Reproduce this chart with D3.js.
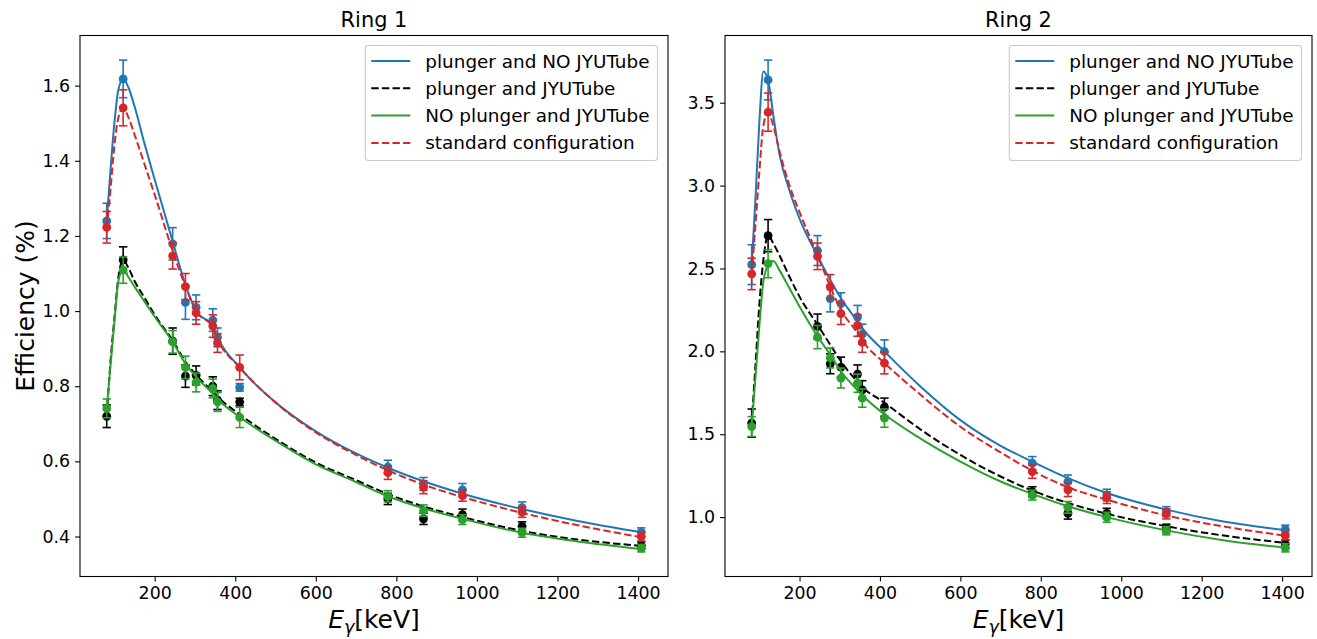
<!DOCTYPE html>
<html>
<head>
<meta charset="utf-8">
<script src="https://cdn.jsdelivr.net/npm/d3@7"></script>
<style>
body { margin: 0; background: #fff; }
svg text { font-family: "DejaVu Sans", sans-serif; fill: #000; }
</style>
</head>
<body>
<div id="chart"></div>
<script>
var width = 1317, height = 639;

// gamma energies of the calibration lines (keV)
var energies = [81.0, 121.8, 244.7, 276.4, 302.9, 344.3, 356.0, 411.1, 778.9, 867.4, 964.1, 1112.1, 1408.0];

var seriesNames = ["plunger and NO JYUTube", "plunger and JYUTube", "NO plunger and JYUTube", "standard configuration"];
var seriesColors = ["#1f77b4", "#000000", "#2ca02c", "#d62728"];
var seriesDashed = [false, true, false, true];

// Ring 1 measured efficiencies (%)
var ring1NoTube = [1.24, 1.618, 1.179, 1.023, 1.01, 0.976, 0.93, 0.797, 0.585, 0.54, 0.524, 0.477, 0.411];
var ring1NoTubeErr = [0.047, 0.05, 0.043, 0.045, 0.033, 0.03, 0.025, 0.01, 0.018, 0.017, 0.017, 0.015, 0.012];
var ring1Tube = [0.72, 1.136, 0.92, 0.827, 0.829, 0.80, 0.763, 0.758, 0.50, 0.447, 0.458, 0.427, 0.376];
var ring1TubeErr = [0.03, 0.035, 0.035, 0.03, 0.025, 0.025, 0.025, 0.01, 0.015, 0.015, 0.015, 0.012, 0.01];
var ring1NoPlunger = [0.741, 1.109, 0.918, 0.85, 0.81, 0.794, 0.758, 0.717, 0.507, 0.469, 0.445, 0.41, 0.369];
var ring1NoPlungerErr = [0.025, 0.035, 0.03, 0.03, 0.025, 0.025, 0.025, 0.027, 0.015, 0.015, 0.013, 0.012, 0.01];
var ring1Standard = [1.223, 1.541, 1.147, 1.065, 0.995, 0.96, 0.915, 0.85, 0.57, 0.531, 0.509, 0.465, 0.40];
var ring1StandardErr = [0.042, 0.048, 0.035, 0.035, 0.03, 0.03, 0.025, 0.033, 0.018, 0.017, 0.015, 0.014, 0.012];

// Ring 2 measured efficiencies (%)
var ring2NoTube = [2.523, 3.637, 2.608, 2.318, 2.288, 2.207, 2.104, 1.999, 1.325, 1.214, 1.133, 1.033, 0.926];
var ring2NoTubeErr = [0.12, 0.12, 0.09, 0.08, 0.065, 0.07, 0.06, 0.07, 0.04, 0.04, 0.035, 0.03, 0.025];
var ring2Tube = [1.567, 2.698, 2.15, 1.925, 1.905, 1.863, 1.768, 1.663, 1.153, 1.023, 1.023, 0.932, 0.837];
var ring2TubeErr = [0.085, 0.097, 0.075, 0.06, 0.06, 0.055, 0.055, 0.055, 0.03, 0.035, 0.03, 0.025, 0.025];
var ring2NoPlunger = [1.546, 2.529, 2.086, 1.96, 1.839, 1.808, 1.718, 1.597, 1.133, 1.059, 0.999, 0.918, 0.815];
var ring2NoPlungerErr = [0.06, 0.085, 0.07, 0.06, 0.06, 0.055, 0.055, 0.055, 0.03, 0.035, 0.03, 0.025, 0.025];
var ring2Standard = [2.467, 3.443, 2.573, 2.388, 2.227, 2.156, 2.054, 1.929, 1.274, 1.164, 1.117, 1.019, 0.888];
var ring2StandardErr = [0.095, 0.115, 0.08, 0.075, 0.065, 0.065, 0.06, 0.065, 0.04, 0.04, 0.035, 0.03, 0.025];

// fitted curves at these energies
var curveEnergies = [81, 90, 100, 110, 121.8, 135, 150, 175, 200, 244.7, 276.4, 302.9, 344.3, 356, 411.1, 500, 600, 700, 778.9, 867.4, 964.1, 1112.1, 1250, 1408];
var ring1NoTubeFit = [1.24, 1.37, 1.50, 1.59, 1.617, 1.595, 1.545, 1.445, 1.35, 1.185, 1.07, 1.0, 0.96, 0.93, 0.85, 0.757, 0.68, 0.621, 0.583, 0.547, 0.514, 0.473, 0.441, 0.411];
var ring1TubeFit = [0.72, 0.86, 0.98, 1.09, 1.135, 1.115, 1.08, 1.035, 0.99, 0.922, 0.865, 0.83, 0.785, 0.772, 0.725, 0.66, 0.597, 0.55, 0.513, 0.48, 0.452, 0.415, 0.392, 0.375];
var ring1NoPlungerFit = [0.74, 0.85, 0.97, 1.08, 1.11, 1.09, 1.065, 1.025, 0.985, 0.918, 0.86, 0.825, 0.78, 0.766, 0.718, 0.655, 0.592, 0.545, 0.507, 0.475, 0.447, 0.41, 0.387, 0.367];
var ring1StandardFit = [1.222, 1.32, 1.44, 1.515, 1.54, 1.515, 1.47, 1.39, 1.31, 1.16, 1.066, 1.0, 0.955, 0.925, 0.85, 0.757, 0.677, 0.617, 0.576, 0.538, 0.505, 0.463, 0.43, 0.398];
var ring2NoTubeFit = [2.52, 2.90, 3.38, 3.688, 3.635, 3.42, 3.19, 2.97, 2.80, 2.575, 2.43, 2.32, 2.18, 2.14, 2.0, 1.79, 1.585, 1.43, 1.335, 1.235, 1.145, 1.045, 0.975, 0.922];
var ring2TubeFit = [1.567, 1.90, 2.28, 2.55, 2.70, 2.65, 2.58, 2.45, 2.33, 2.16, 2.04, 1.94, 1.815, 1.785, 1.69, 1.53, 1.375, 1.245, 1.16, 1.085, 1.02, 0.945, 0.89, 0.845];
var ring2NoPlungerFit = [1.546, 1.83, 2.15, 2.42, 2.52, 2.545, 2.49, 2.38, 2.27, 2.09, 1.98, 1.88, 1.765, 1.735, 1.62, 1.475, 1.335, 1.215, 1.14, 1.065, 1.0, 0.92, 0.862, 0.815];
var ring2StandardFit = [2.467, 2.75, 3.08, 3.36, 3.44, 3.36, 3.21, 3.0, 2.84, 2.58, 2.39, 2.25, 2.11, 2.065, 1.93, 1.74, 1.545, 1.39, 1.28, 1.18, 1.105, 1.01, 0.945, 0.888];

var ring1Values = [ring1NoTube, ring1Tube, ring1NoPlunger, ring1Standard];
var ring1Errors = [ring1NoTubeErr, ring1TubeErr, ring1NoPlungerErr, ring1StandardErr];
var ring1Fits = [ring1NoTubeFit, ring1TubeFit, ring1NoPlungerFit, ring1StandardFit];
var ring2Values = [ring2NoTube, ring2Tube, ring2NoPlunger, ring2Standard];
var ring2Errors = [ring2NoTubeErr, ring2TubeErr, ring2NoPlungerErr, ring2StandardErr];
var ring2Fits = [ring2NoTubeFit, ring2TubeFit, ring2NoPlungerFit, ring2StandardFit];

var xTicks = [200, 400, 600, 800, 1000, 1200, 1400];
var ring1YTicks = [0.4, 0.6, 0.8, 1.0, 1.2, 1.4, 1.6];
var ring2YTicks = [1.0, 1.5, 2.0, 2.5, 3.0, 3.5];

var svg = d3.select("#chart")
    .append("svg")
    .attr("width", width)
    .attr("height", height);

var plotTop = 35.5, plotBottom = 576.5;
var tickLen = 4.9;

function padded(lo, hi) {
    var p = (hi - lo) * 0.05;
    return [lo - p, hi + p];
}

function drawPanel(left, right, title, values, errors, fits, yTicks, showYLabel) {
    var xExt = d3.extent(energies);
    var xScale = d3.scaleLinear()
        .domain(padded(xExt[0], xExt[1]))
        .range([left, right]);

    var lows = [], highs = [];
    values.forEach(function(v, s) {
        v.forEach(function(d, i) {
            lows.push(d - errors[s][i]);
            highs.push(d + errors[s][i]);
        });
    });
    var yScale = d3.scaleLinear()
        .domain(padded(d3.min(lows), d3.max(highs)))
        .range([plotBottom, plotTop]);

    var g = svg.append("g");

    var line = d3.line()
        .x(function(d) { return xScale(d[0]); })
        .y(function(d) { return yScale(d[1]); })
        .curve(d3.curveMonotoneX);

    values.forEach(function(v, s) {
        var color = seriesColors[s];
        var fitPts = curveEnergies.map(function(e, i) { return [e, fits[s][i]]; });
        g.append("path")
            .attr("d", line(fitPts))
            .attr("fill", "none")
            .attr("stroke", color)
            .attr("stroke-width", 2)
            .attr("stroke-dasharray", seriesDashed[s] ? "7.4,3.2" : null);

        var pts = energies.map(function(e, i) { return {e: e, v: v[i], err: errors[s][i]}; });
        var eb = g.append("g");
        eb.selectAll(".bar")
            .data(pts)
            .enter()
            .append("line")
            .attr("x1", function(d) { return xScale(d.e); })
            .attr("x2", function(d) { return xScale(d.e); })
            .attr("y1", function(d) { return yScale(d.v - d.err); })
            .attr("y2", function(d) { return yScale(d.v + d.err); })
            .attr("stroke", color)
            .attr("stroke-width", 1.6);
        [-1, 1].forEach(function(sign) {
            eb.selectAll(".cap" + sign)
                .data(pts)
                .enter()
                .append("line")
                .attr("x1", function(d) { return xScale(d.e) - 4.2; })
                .attr("x2", function(d) { return xScale(d.e) + 4.2; })
                .attr("y1", function(d) { return yScale(d.v + sign * d.err); })
                .attr("y2", function(d) { return yScale(d.v + sign * d.err); })
                .attr("stroke", color)
                .attr("stroke-width", 1.6);
        });
        g.append("g").selectAll("circle")
            .data(pts)
            .enter()
            .append("circle")
            .attr("cx", function(d) { return xScale(d.e); })
            .attr("cy", function(d) { return yScale(d.v); })
            .attr("r", 4.4)
            .attr("fill", color);
    });

    // frame
    g.append("rect")
        .attr("x", left)
        .attr("y", plotTop)
        .attr("width", right - left)
        .attr("height", plotBottom - plotTop)
        .attr("fill", "none")
        .attr("stroke", "#000")
        .attr("stroke-width", 1.1);

    var xAxis = g.append("g")
        .attr("transform", "translate(0," + plotBottom + ")")
        .call(d3.axisBottom(xScale).tickValues(xTicks).tickFormat(d3.format("d")).tickSize(tickLen).tickSizeOuter(0).tickPadding(4.9));
    var yAxis = g.append("g")
        .attr("transform", "translate(" + left + ",0)")
        .call(d3.axisLeft(yScale).tickValues(yTicks).tickFormat(d3.format(".1f")).tickSize(tickLen).tickSizeOuter(0).tickPadding(4.9));
    [xAxis, yAxis].forEach(function(ax) {
        ax.select(".domain").remove();
        ax.selectAll("line").attr("stroke", "#000").attr("stroke-width", 1.1);
        ax.selectAll("text").attr("font-size", 17.4).attr("font-family", "DejaVu Sans");
    });

    g.append("text")
        .attr("x", (left + right) / 2)
        .attr("y", plotTop - 8.5)
        .attr("text-anchor", "middle")
        .attr("font-size", 20.9)
        .text(title);

    var xl = g.append("text")
        .attr("x", (left + right) / 2)
        .attr("y", 628)
        .attr("text-anchor", "middle")
        .attr("font-size", 25);
    xl.append("tspan").attr("font-style", "italic").text("E");
    xl.append("tspan").attr("font-style", "italic").attr("font-size", 17.5).attr("dy", 5).text("γ");
    xl.append("tspan").attr("dy", -5).text("[keV]");

    if (showYLabel) {
        g.append("text")
            .attr("transform", "translate(34," + ((plotTop + plotBottom) / 2) + ") rotate(-90)")
            .attr("text-anchor", "middle")
            .attr("font-size", 25)
            .text("Efficiency (%)");
    }

    // legend
    var lg = g.append("g");
    var rowH = 27.3;
    var texts = [];
    seriesNames.forEach(function(name, s) {
        texts.push(lg.append("text")
            .attr("font-size", 18.4)
            .attr("y", plotTop + 10 + 15.5 + s * rowH + 6.5)
            .text(name));
    });
    var tw = d3.max(texts, function(t) { return t.node().getComputedTextLength(); });
    var boxRight = right - 10.5;
    var boxLeft = boxRight - (tw + 60 + 8);
    lg.insert("rect", "text")
        .attr("x", boxLeft)
        .attr("y", plotTop + 10)
        .attr("width", boxRight - boxLeft)
        .attr("height", 115)
        .attr("rx", 3)
        .attr("fill", "#fff")
        .attr("fill-opacity", 0.8)
        .attr("stroke", "#cccccc")
        .attr("stroke-width", 1.1);
    texts.forEach(function(t) { t.attr("x", boxLeft + 60); });
    seriesNames.forEach(function(name, s) {
        var yy = plotTop + 10 + 15.5 + s * rowH;
        lg.append("line")
            .attr("x1", boxLeft + 6)
            .attr("x2", boxLeft + 45)
            .attr("y1", yy)
            .attr("y2", yy)
            .attr("stroke", seriesColors[s])
            .attr("stroke-width", 2)
            .attr("stroke-dasharray", seriesDashed[s] ? "7.4,3.2" : null);
    });
}

drawPanel(80, 668, "Ring 1", ring1Values, ring1Errors, ring1Fits, ring1YTicks, true);
drawPanel(725, 1312, "Ring 2", ring2Values, ring2Errors, ring2Fits, ring2YTicks, false);
</script>
</body>
</html>
